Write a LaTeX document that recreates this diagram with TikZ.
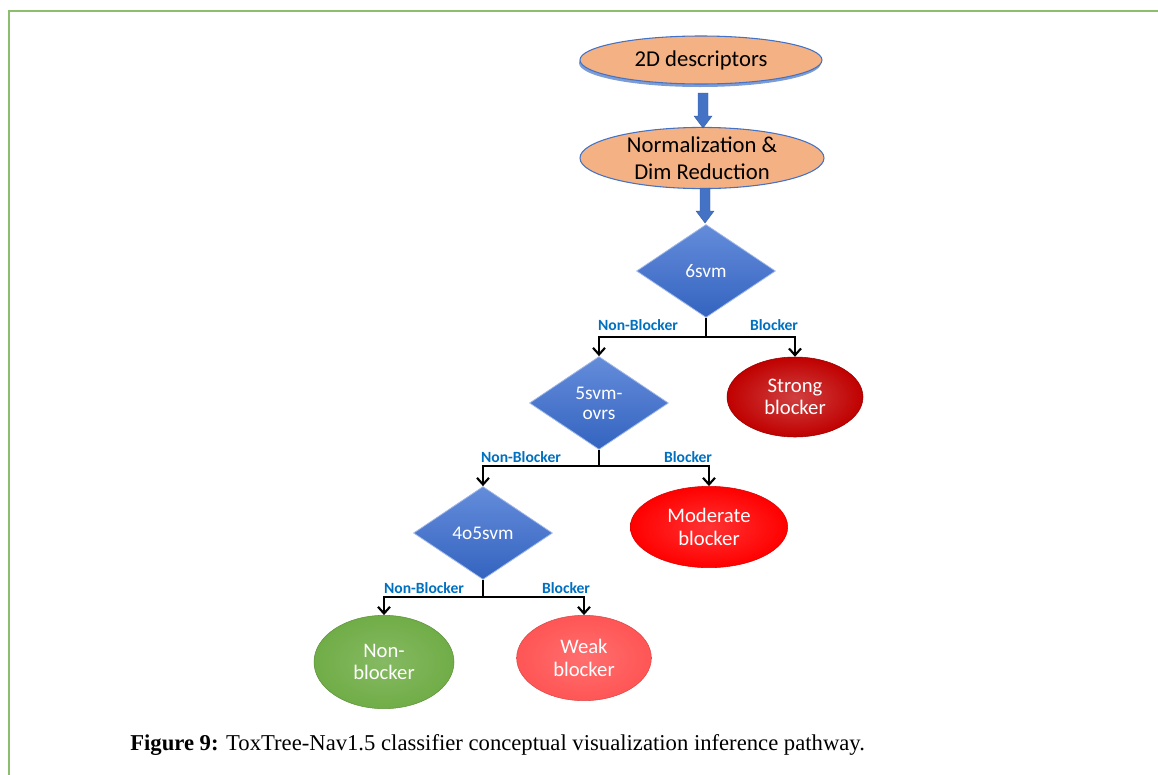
\documentclass[tikz,border=0pt]{standalone}
\usepackage{fontspec}
\setmainfont{Carlito}
\newfontfamily\capfont{Liberation Serif}
\usetikzlibrary{shapes.geometric,arrows.meta,calc}
\definecolor{frameg}{RGB}{140,190,110}
\definecolor{peach}{RGB}{244,177,131}
\definecolor{edgeblue}{RGB}{68,114,196}
\definecolor{dtop}{RGB}{100,140,218}
\definecolor{dbot}{RGB}{52,100,192}
\definecolor{lblblue}{RGB}{0,112,192}
\definecolor{strongred}{RGB}{192,0,0}
\definecolor{modred}{RGB}{255,0,0}
\definecolor{weakred}{RGB}{255,85,85}
\definecolor{nongreen}{RGB}{112,173,71}
\tikzset{
  x=0.75pt, y=-0.75pt,
  inputell/.style={ellipse, draw=edgeblue, line width=0.8pt, fill=peach, inner sep=0pt, align=center, font=\fontsize{17}{20.5}\selectfont},
  dec/.style={diamond, inner sep=0pt, minimum width=104.25pt, minimum height=69.75pt, top color=dtop, bottom color=dbot, draw=dtop!60!white, line width=0.6pt, text=white, align=center, font=\fontsize{14.5}{15}\selectfont},
  outell/.style={ellipse, inner sep=0pt, text=white, align=center, font=\fontsize{15.5}{16.8}\selectfont},
  blockarrow/.style={fill=edgeblue, draw=edgeblue!80!black, line width=0.3pt},
  branch/.style={line width=2pt, black},
  arr/.style={branch, -{Straight Barb[length=5pt,width=9pt,line width=1.6pt]}},
  lbl/.style={text=lblblue, font=\bfseries\fontsize{11.7}{13}\selectfont, inner sep=0pt}
}
\begin{document}
\begin{tikzpicture}
\useasboundingbox (0,0) rectangle (1158,775);
% frame
\draw[frameg, line width=1.3pt] (9,775) -- (9,11) -- (1158,11);
% input ellipses
\fill[edgeblue!70!white] (700,63) ellipse [x radius=90.75pt, y radius=18pt];
\node[inputell, minimum width=181.5pt, minimum height=36pt] (desc) at (701,60) {2D descriptors};
\node[inputell, minimum width=183pt, minimum height=42pt] (norm) at (702,158) {Normalization \&\\Dim Reduction};
% block arrows
\coordinate (ba1) at (703,93);
\coordinate (ba2) at (705,188);
\fill[blockarrow] ($(ba1)+(-5,0)$) -- ++(10,0) -- ++(0,23) -- ++(4,0) -- ($(ba1)+(0,35)$) -- ($(ba1)+(-9,23)$) -- ++(4,0) -- cycle;
\fill[blockarrow] ($(ba2)+(-5,0)$) -- ++(10,0) -- ++(0,23) -- ++(4,0) -- ($(ba2)+(0,35)$) -- ($(ba2)+(-9,23)$) -- ++(4,0) -- cycle;
% decisions
\node[dec] (d1) at (706,271) {6svm};
\node[dec] (d2) at (599,403) {5svm-\\ovrs};
\node[dec] (d3) at (483,533) {4o5svm};
% outcomes
\node[outell, minimum width=102pt, minimum height=60pt, shade, inner color=strongred!75!white, outer color=strongred, draw=strongred!80!black] (strong) at (795,397) {Strong\\blocker};
\node[outell, minimum width=118pt, minimum height=61pt, shade, inner color=modred!80!white, outer color=modred, draw=modred!85!black] (mod) at (709,527) {Moderate\\blocker};
\node[outell, minimum width=105pt, minimum height=70pt, shade, inner color=nongreen!85!white, outer color=nongreen, draw=nongreen!85!black] (non) at (384,662) {Non-\\blocker};
\node[outell, minimum width=101pt, minimum height=64pt, shade, inner color=weakred!85!white, outer color=weakred, draw=weakred!85!black] (weak) at (584,658) {Weak\\blocker};
% branches
\coordinate (j1) at (706,337);
\coordinate (j2) at (599,466);
\coordinate (j3) at (483,597);
\draw[branch] (d1.south) -- (j1);
\draw[arr] (j1) -| (d2.north);
\draw[arr] (j1) -| (strong.north);
\draw[branch] (d2.south) -- (j2);
\draw[arr] (j2) -| (d3.north);
\draw[arr] (j2) -| (mod.north);
\draw[branch] (d3.south) -- (j3);
\draw[arr] (j3) -| (non.north);
\draw[arr] (j3) -| (weak.north);
% labels
\node[lbl] (l1a) at (638,325) {Non-Blocker};
\node[lbl] (l1b) at (774,325) {Blocker};
\node[lbl] (l2a) at (521,457) {Non-Blocker};
\node[lbl] (l2b) at (688,457) {Blocker};
\node[lbl] (l3a) at (424,588) {Non-Blocker};
\node[lbl] (l3b) at (566,588) {Blocker};
% caption
\node[anchor=west, inner sep=0pt, font=\capfont\fontsize{17}{20}\selectfont] (cap) at (130,745) {\textbf{Figure 9:} ToxTree-Nav1.5 classifier conceptual visualization inference pathway.};
\end{tikzpicture}
\end{document}
